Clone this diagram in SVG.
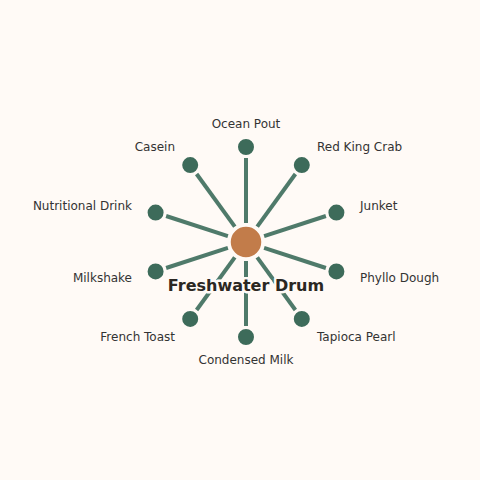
<svg xmlns="http://www.w3.org/2000/svg" width="480" height="480" viewBox="0 0 480 480">
<style>
.bg{fill:#fffaf6}
.edge{stroke:#4f7a6a;stroke-width:4;stroke-linecap:butt}
.leaf{fill:#3d6b5a;stroke:#fffaf6;stroke-width:2}
.hub{fill:#c27c4a;stroke:#fffaf6;stroke-width:2.5}
.lbl{font-family:"DejaVu Sans",sans-serif;font-size:12px;fill:#333333}
.title{font-family:"DejaVu Sans",sans-serif;font-size:16px;font-weight:bold;fill:#2b2722;stroke:#fffaf6;stroke-width:5;paint-order:stroke;stroke-linejoin:round}
</style>
<rect class="bg" x="0" y="0" width="480" height="480"/>
<g id="connectors">
<line class="edge" x1="246" y1="223" x2="246" y2="158"/>
<line class="edge" x1="257.2" y1="226.6" x2="295.4" y2="174"/>
<line class="edge" x1="264.1" y1="236.1" x2="325.9" y2="216"/>
<line class="edge" x1="264.1" y1="247.9" x2="325.9" y2="268"/>
<line class="edge" x1="257.2" y1="257.4" x2="295.4" y2="310"/>
<line class="edge" x1="246" y1="261" x2="246" y2="326"/>
<line class="edge" x1="234.8" y1="257.4" x2="196.6" y2="310"/>
<line class="edge" x1="227.9" y1="247.9" x2="166.1" y2="268"/>
<line class="edge" x1="227.9" y1="236.1" x2="166.1" y2="216"/>
<line class="edge" x1="234.8" y1="226.6" x2="196.6" y2="174"/>
</g>
<g id="node-ocean-pout"><circle class="leaf" cx="246" cy="147" r="9"/><text class="lbl" x="246" y="128" text-anchor="middle">Ocean Pout</text></g>
<g id="node-red-king-crab"><circle class="leaf" cx="301.8" cy="165.1" r="9"/><text class="lbl" x="317" y="151">Red King Crab</text></g>
<g id="node-junket"><circle class="leaf" cx="336.4" cy="212.6" r="9"/><text class="lbl" x="360" y="210">Junket</text></g>
<g id="node-phyllo-dough"><circle class="leaf" cx="336.4" cy="271.4" r="9"/><text class="lbl" x="360" y="282">Phyllo Dough</text></g>
<g id="node-tapioca-pearl"><circle class="leaf" cx="301.8" cy="318.9" r="9"/><text class="lbl" x="317" y="341">Tapioca Pearl</text></g>
<g id="node-condensed-milk"><circle class="leaf" cx="246" cy="337" r="9"/><text class="lbl" x="246" y="364" text-anchor="middle">Condensed Milk</text></g>
<g id="node-french-toast"><circle class="leaf" cx="190.2" cy="318.9" r="9"/><text class="lbl" x="175" y="341" text-anchor="end">French Toast</text></g>
<g id="node-milkshake"><circle class="leaf" cx="155.6" cy="271.4" r="9"/><text class="lbl" x="132" y="282" text-anchor="end">Milkshake</text></g>
<g id="node-nutritional-drink"><circle class="leaf" cx="155.6" cy="212.6" r="9"/><text class="lbl" x="132" y="210" text-anchor="end">Nutritional Drink</text></g>
<g id="node-casein"><circle class="leaf" cx="190.2" cy="165.1" r="9"/><text class="lbl" x="175" y="151" text-anchor="end">Casein</text></g>
<g id="node-freshwater-drum"><circle class="hub" cx="246" cy="242" r="16.5"/><text class="title" x="246" y="291" text-anchor="middle">Freshwater Drum</text></g>
</svg>
